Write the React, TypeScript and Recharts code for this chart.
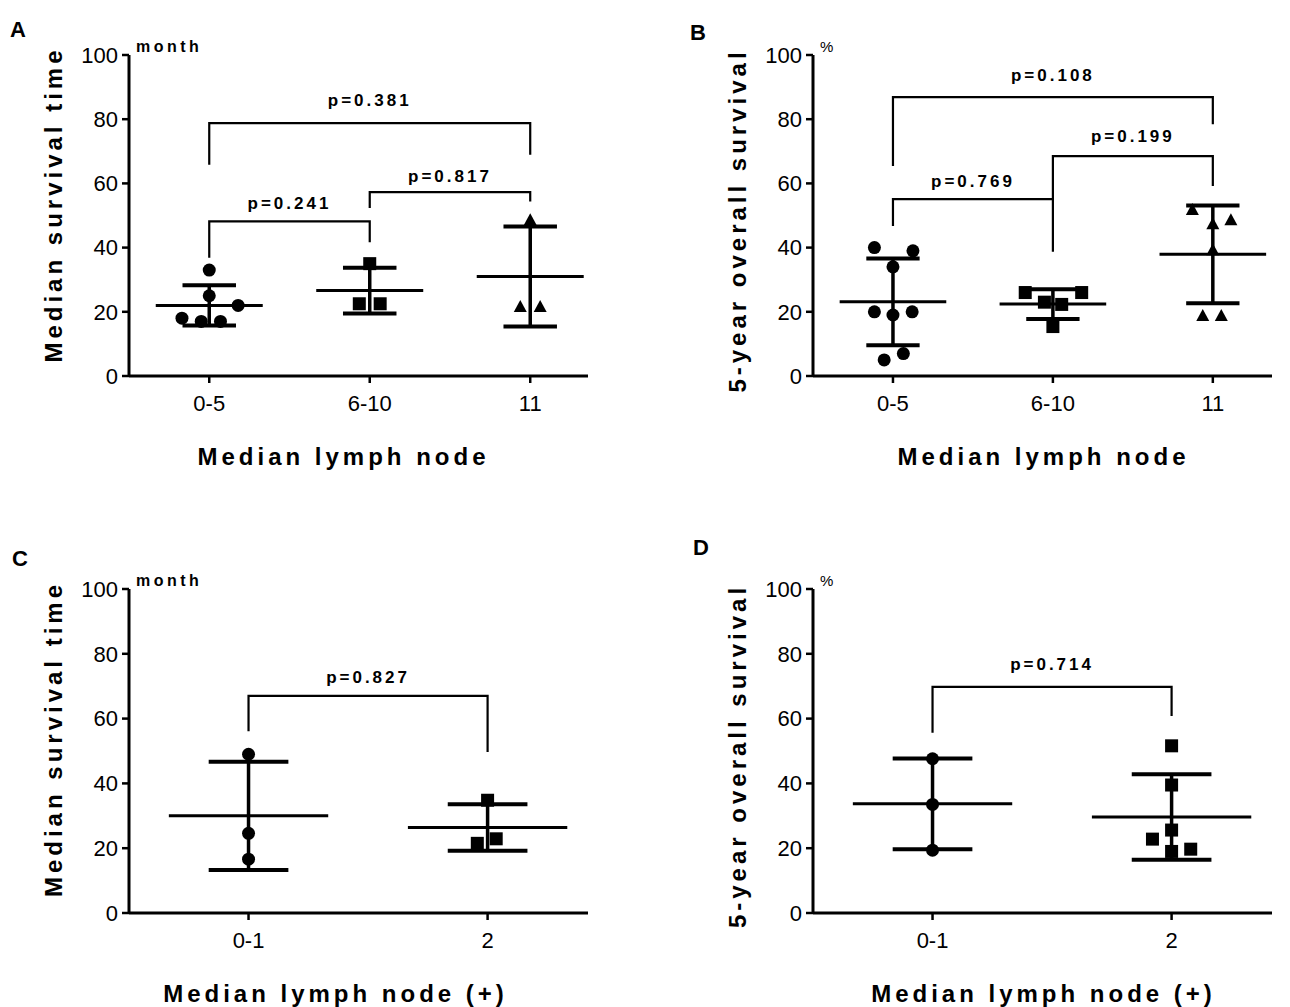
import React from 'react';
import { ScatterChart, Scatter, XAxis, YAxis } from 'recharts';

// A: median survival time by median lymph node
const groupsA = ['0-5', '6-10', '11'];
const monthsA = [
  [33, 25, 22, 18, 17, 17],
  [35, 22.5, 22.5],
  [48.5, 21.5, 21.5],
];
const spreadA = [
  [0, 0, 0.18, -0.17, -0.05, 0.07],
  [0, -0.065, 0.065],
  [0, -0.062, 0.062],
];
const meanA = [22, 26.6, 31];
const sdA = [6.3, 7.1, 15.6];
const pA = [
  { from: 0, to: 2, top: 78.8, footL: 65.8, footR: 68.9, text: 'p=0.381', textY: 86 },
  { from: 0, to: 1, top: 48.2, footL: 36.8, footR: 41.7, text: 'p=0.241', textY: 53.9 },
  { from: 1, to: 2, top: 57.3, footL: 52.3, footR: 54.4, text: 'p=0.817', textY: 62.2 },
];

// B: 5-year overall survival by median lymph node
const groupsB = ['0-5', '6-10', '11'];
const survivalB = [
  [40, 39, 34, 20, 19, 20, 7, 5],
  [26, 26, 23, 22.3, 15.4],
  [51.7, 48.5, 47.3, 39.2, 18.7, 18.7],
];
const spreadB = [
  [-0.116, 0.125, 0, -0.116, 0, 0.12, 0.065, -0.055],
  [-0.173, 0.18, -0.053, 0.055, 0],
  [-0.128, 0.113, 0, 0, -0.063, 0.053],
];
const meanB = [23.1, 22.4, 37.9];
const sdB = [13.5, 4.65, 15.2];
const pB = [
  { from: 0, to: 2, top: 86.9, footL: 65.4, footR: 78.4, text: 'p=0.108', textY: 93.9 },
  { from: 0, to: 1, top: 55.1, footL: 46.7, footR: 38.7, text: 'p=0.769', textY: 60.7 },
  { from: 1, to: 2, top: 68.5, footL: 55.1, footR: 59.2, text: 'p=0.199', textY: 74.9 },
];

// C: median survival time by positive median lymph node
const groupsC = ['0-1', '2'];
const monthsC = [
  [49, 24.6, 16.6],
  [34.8, 21.5, 22.9],
];
const spreadC = [
  [0, 0, 0],
  [0, -0.043, 0.036],
];
const meanC = [30, 26.4];
const sdC = [16.7, 7.2];
const pC = [{ from: 0, to: 1, top: 67, footL: 56.1, footR: 49.7, text: 'p=0.827', textY: 72.8 }];

// D: 5-year overall survival by positive median lymph node
const groupsD = ['0-1', '2'];
const survivalD = [
  [47.6, 33.5, 19.4],
  [51.6, 39.5, 25.6, 22.8, 19.7, 19.0],
];
const spreadD = [
  [0, 0, 0],
  [0, 0, 0, -0.08, 0.08, 0],
];
const meanD = [33.7, 29.6];
const sdD = [14, 13.2];
const pD = [{ from: 0, to: 1, top: 69.8, footL: 55.6, footR: 60.8, text: 'p=0.714', textY: 76.8 }];

const yTicks = [0, 20, 40, 60, 80, 100];
const FONT = "'Liberation Sans', Arial, Helvetica, sans-serif";

const noDot = () => <g />;

const Circle = (p: any) => <circle cx={p.cx} cy={p.cy} r={6.5} fill="#000" />;
const Square = (p: any) => <rect x={p.cx - 6.5} y={p.cy - 6.5} width={13} height={13} fill="#000" />;
const Triangle = (p: any) => (
  <polygon points={`${p.cx},${p.cy - 7} ${p.cx - 6.5},${p.cy + 5} ${p.cx + 6.5},${p.cy + 5}`} fill="#000" />
);
const markers = [Circle, Square, Triangle];

const PText = (p: any) => (
  <text
    x={p.cx}
    y={p.cy}
    dy="0.35em"
    textAnchor="middle"
    fontFamily={FONT}
    fontWeight="bold"
    fontSize={17}
    letterSpacing={3}
    fill="#000"
  >
    {p.payload.text}
  </text>
);

type Bracket = { from: number; to: number; top: number; footL: number; footR: number; text: string; textY: number };

type PanelProps = {
  letter: string;
  letterPos: [number, number];
  left: number;
  top: number;
  bottom: number;
  xMax: number;
  groups: string[];
  values: number[][];
  spread: number[][];
  means: number[];
  sds: number[];
  brackets: Bracket[];
  yTitle: string;
  unit: string;
  unitBold: boolean;
  xTitle: string;
  xTitleDx: number;
  yTitleDy: number;
};

function Panel(props: PanelProps) {
  const { left, top, bottom, xMax, groups, values, spread, means, sds, brackets } = props;
  const line = (w: number) => ({ stroke: '#000', strokeWidth: w });

  const xLabel = (p: any) => {
    const vb = p.viewBox;
    return (
      <text
        x={vb.x + vb.width / 2 + props.xTitleDx}
        y={vb.y + 89}
        textAnchor="middle"
        fontFamily={FONT}
        fontWeight="bold"
        fontSize={24}
        letterSpacing={4}
        fill="#000"
      >
        {props.xTitle}
      </text>
    );
  };

  const yLabel = (p: any) => {
    const vb = p.viewBox;
    const cx = vb.x + vb.width - 75;
    const cy = vb.y + vb.height / 2 + props.yTitleDy;
    return (
      <g>
        <text
          transform={`translate(${cx},${cy}) rotate(-90)`}
          textAnchor="middle"
          dy="0.35em"
          fontFamily={FONT}
          fontWeight="bold"
          fontSize={24}
          letterSpacing={4}
          fill="#000"
        >
          {props.yTitle}
        </text>
        <text
          x={vb.x + vb.width + 7}
          y={vb.y - 3}
          fontFamily={FONT}
          fontWeight={props.unitBold ? 'bold' : 'normal'}
          fontSize={props.unitBold ? 16 : 15}
          letterSpacing={props.unitBold ? 3.5 : 0}
          fill="#000"
        >
          {props.unit}
        </text>
      </g>
    );
  };

  return (
    <div style={{ position: 'absolute', left, top }}>
      <ScatterChart width={600} height={480} margin={{ top: 55, right: 12, bottom, left: 0 }}>
        <XAxis
          type="number"
          dataKey="x"
          domain={[-0.5, xMax]}
          ticks={groups.map((_, i) => i)}
          tickFormatter={(v: number) => groups[v]}
          height={90}
          tickSize={7}
          tickMargin={12}
          axisLine={line(3)}
          tickLine={line(2.5)}
          tick={{ fontSize: 22, fill: '#000', fontFamily: FONT }}
          label={xLabel}
        />
        <YAxis
          type="number"
          dataKey="y"
          domain={[0, 100]}
          ticks={yTicks}
          width={129}
          tickSize={7}
          tickMargin={4}
          axisLine={line(3)}
          tickLine={line(2.5)}
          tick={{ fontSize: 22, fill: '#000', fontFamily: FONT }}
          label={yLabel}
        />
        {brackets.map((b, i) => (
          <Scatter
            key={`br${i}`}
            data={[
              { x: b.from, y: b.footL },
              { x: b.from, y: b.top },
              { x: b.to, y: b.top },
              { x: b.to, y: b.footR },
            ]}
            line={line(2.2)}
            lineType="joint"
            shape={noDot}
            isAnimationActive={false}
          />
        ))}
        {means.map((m, i) => (
          <Scatter
            key={`mean${i}`}
            data={[
              { x: i - 1 / 3, y: m },
              { x: i + 1 / 3, y: m },
            ]}
            line={line(3)}
            shape={noDot}
            isAnimationActive={false}
          />
        ))}
        {means.map((m, i) => (
          <Scatter
            key={`sd${i}`}
            data={[
              { x: i, y: m - sds[i] },
              { x: i, y: m + sds[i] },
            ]}
            line={line(3.5)}
            shape={noDot}
            isAnimationActive={false}
          />
        ))}
        {means.map((m, i) => (
          <Scatter
            key={`capHi${i}`}
            data={[
              { x: i - 1 / 6, y: m + sds[i] },
              { x: i + 1 / 6, y: m + sds[i] },
            ]}
            line={line(4)}
            shape={noDot}
            isAnimationActive={false}
          />
        ))}
        {means.map((m, i) => (
          <Scatter
            key={`capLo${i}`}
            data={[
              { x: i - 1 / 6, y: m - sds[i] },
              { x: i + 1 / 6, y: m - sds[i] },
            ]}
            line={line(4)}
            shape={noDot}
            isAnimationActive={false}
          />
        ))}
        {values.map((vals, i) => (
          <Scatter
            key={`pts${i}`}
            data={vals.map((v, j) => ({ x: i + spread[i][j], y: v }))}
            shape={markers[i]}
            isAnimationActive={false}
          />
        ))}
        <Scatter
          data={brackets.map((b) => ({ x: (b.from + b.to) / 2, y: b.textY, text: b.text }))}
          shape={PText}
          isAnimationActive={false}
        />
      </ScatterChart>
      <div
        style={{
          position: 'absolute',
          left: props.letterPos[0],
          top: props.letterPos[1],
          fontFamily: FONT,
          fontWeight: 'bold',
          fontSize: 22,
          color: '#000',
          lineHeight: 1,
        }}
      >
        {props.letter}
      </div>
    </div>
  );
}

export default function App() {
  return (
    <div style={{ position: 'absolute', left: 0, top: 0, width: 1290, height: 1007, background: '#fff' }}>
      <Panel
        letter="A"
        letterPos={[10, 19]}
        left={0}
        top={0}
        bottom={14}
        xMax={2.36}
        groups={groupsA}
        values={monthsA}
        spread={spreadA}
        means={meanA}
        sds={sdA}
        brackets={pA}
        yTitle="Median survival time"
        unit="month"
        unitBold
        xTitle="Median lymph node"
        xTitleDx={-15}
        yTitleDy={-11}
      />
      <Panel
        letter="B"
        letterPos={[6, 22]}
        left={684}
        top={0}
        bottom={14}
        xMax={2.37}
        groups={groupsB}
        values={survivalB}
        spread={spreadB}
        means={meanB}
        sds={sdB}
        brackets={pB}
        yTitle="5-year overall survival"
        unit="%"
        unitBold={false}
        xTitle="Median lymph node"
        xTitleDx={1}
        yTitleDy={5}
      />
      <Panel
        letter="C"
        letterPos={[12, 14]}
        left={0}
        top={534}
        bottom={11}
        xMax={1.42}
        groups={groupsC}
        values={monthsC}
        spread={spreadC}
        means={meanC}
        sds={sdC}
        brackets={pC}
        yTitle="Median survival time"
        unit="month"
        unitBold
        xTitle="Median lymph node (+)"
        xTitleDx={-23}
        yTitleDy={-12}
      />
      <Panel
        letter="D"
        letterPos={[9, 3]}
        left={684}
        top={534}
        bottom={11}
        xMax={1.42}
        groups={groupsD}
        values={survivalD}
        spread={spreadD}
        means={meanD}
        sds={sdD}
        brackets={pD}
        yTitle="5-year overall survival"
        unit="%"
        unitBold={false}
        xTitle="Median lymph node (+)"
        xTitleDx={1}
        yTitleDy={5}
      />
    </div>
  );
}
